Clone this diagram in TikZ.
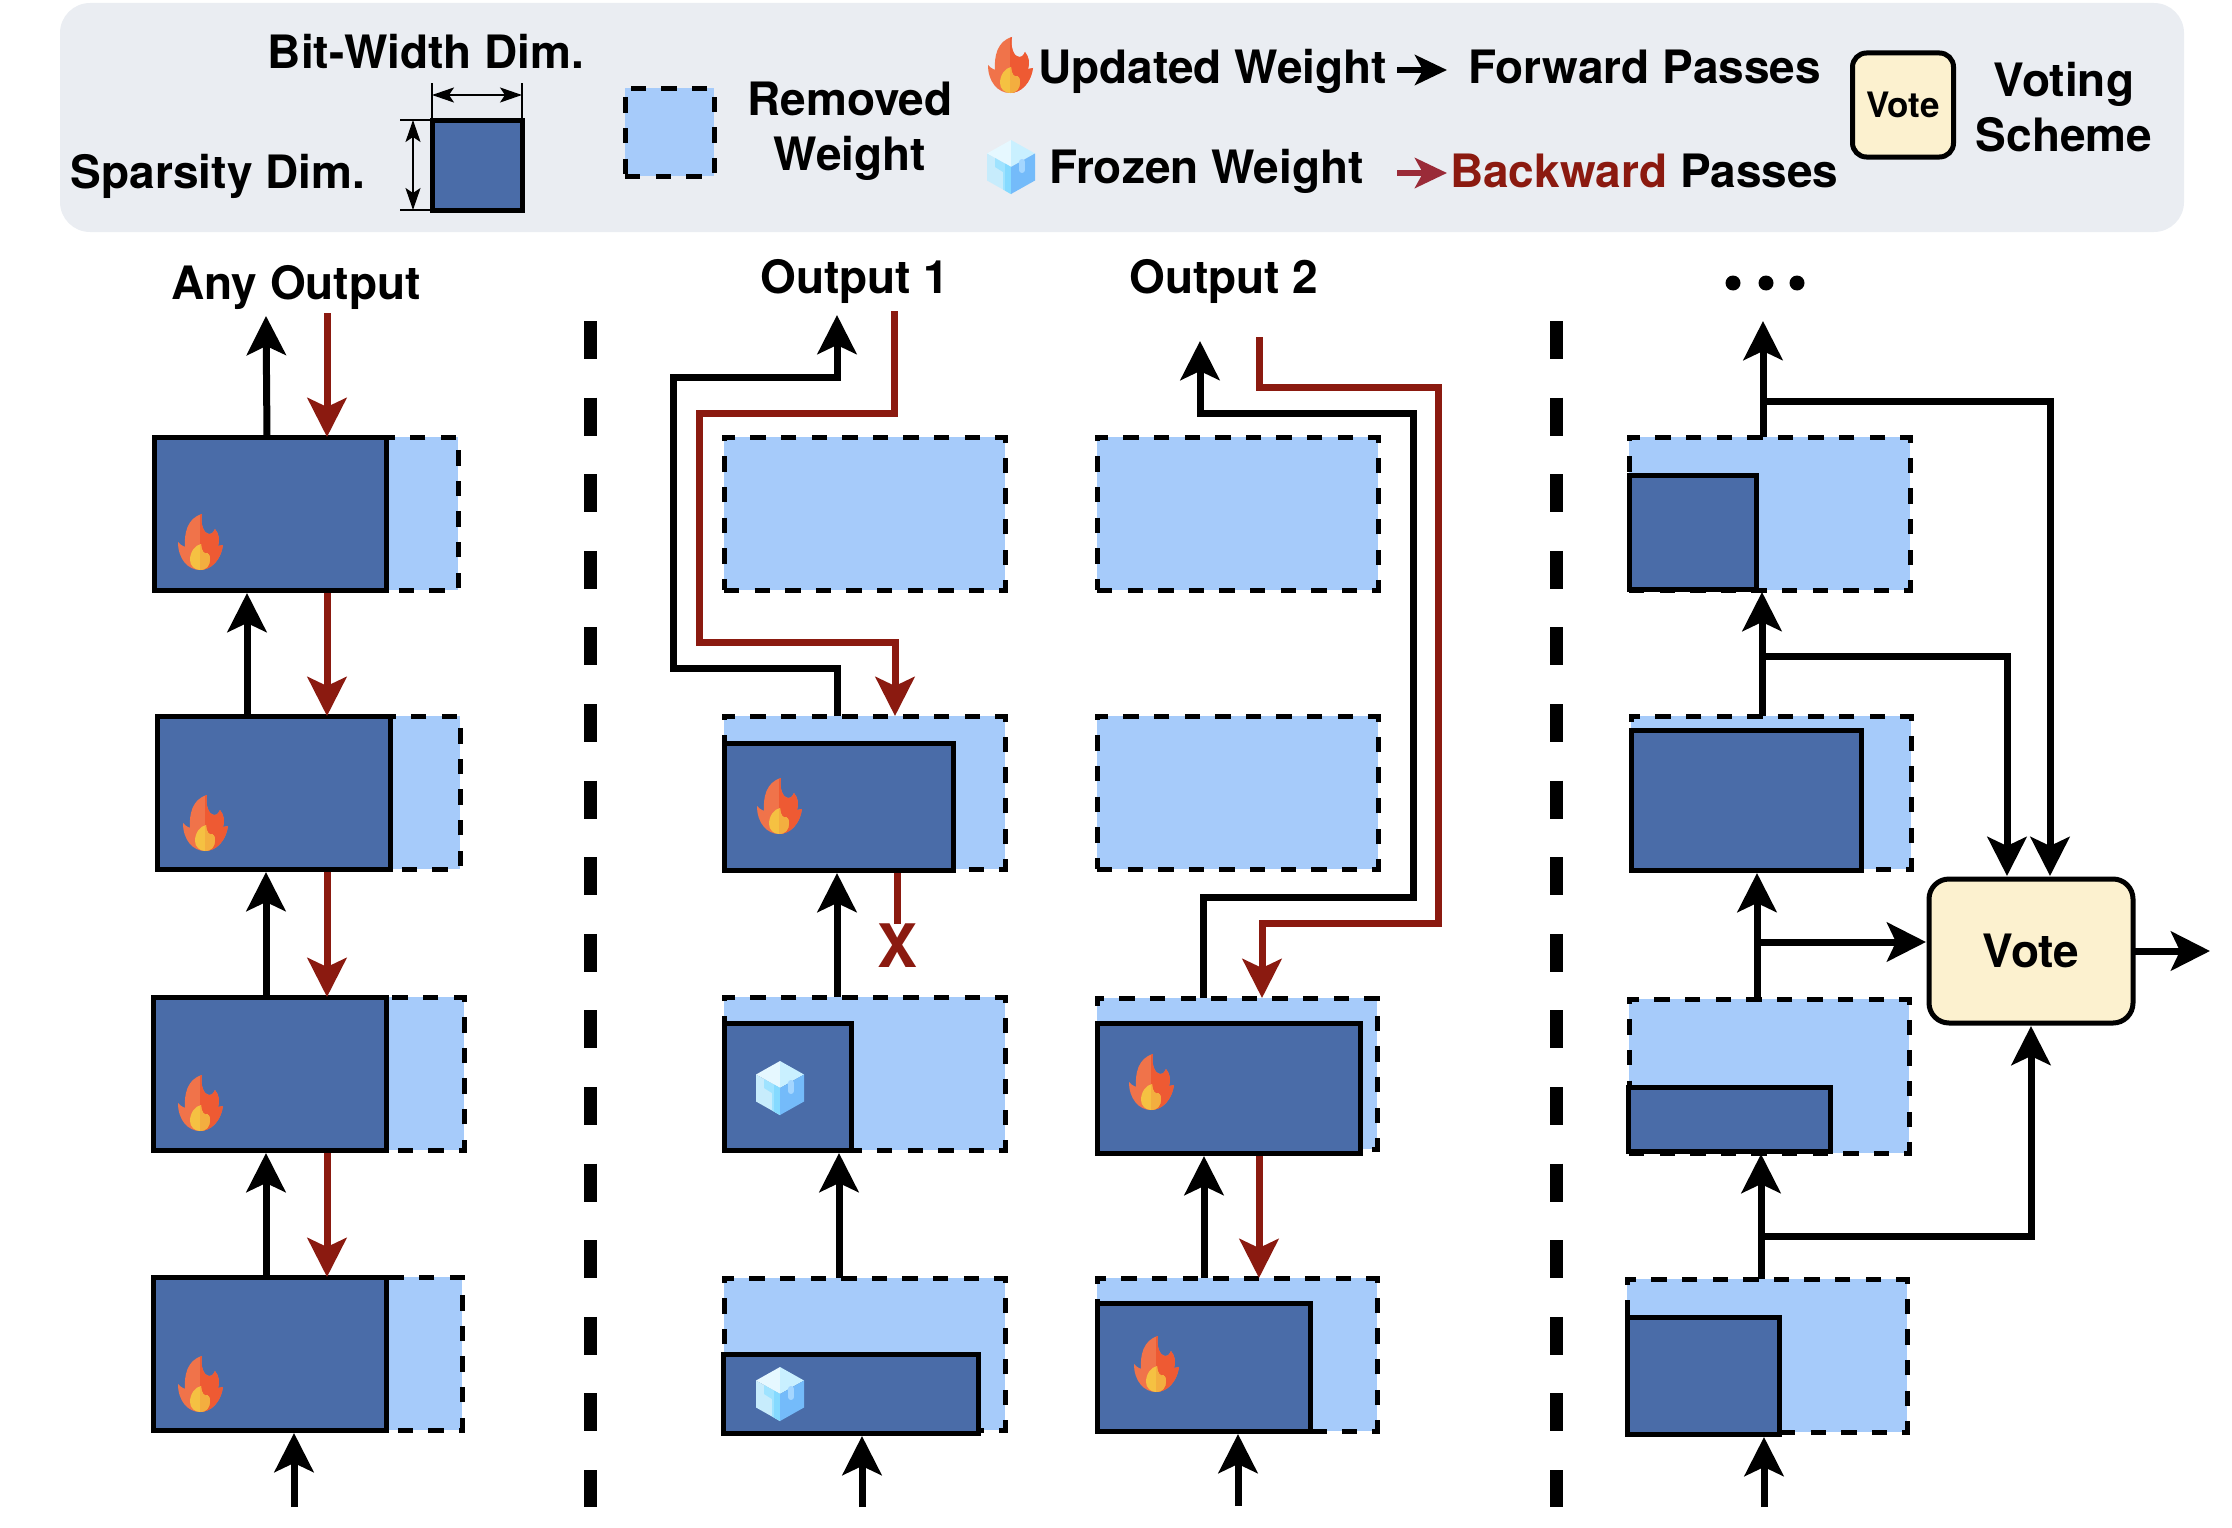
\documentclass[tikz,border=0pt]{standalone}
\usepackage{fontspec}
\usepackage{xcolor}
\usetikzlibrary{arrows.meta}
\setmainfont{TeX Gyre Heros}
\definecolor{mypanel}{HTML}{EAEDF2}
\definecolor{myblue}{HTML}{4A6CA8}
\definecolor{mysky}{HTML}{A6CBFA}
\definecolor{myred}{HTML}{8B1A10}
\definecolor{mywine}{HTML}{9A2B38}
\definecolor{mycream}{HTML}{FCF1CF}
\definecolor{flamea}{HTML}{F0734A}
\definecolor{flameb}{HTML}{EE5A33}
\definecolor{flamec}{HTML}{F5C142}
\definecolor{flamed}{HTML}{F3AE3F}
\newcommand{\flamepath}{(2,-28) .. controls (0,-18) and (4,-8) .. (9,-8)
  .. controls (13,-8) and (14,-11) .. (15,-13) .. controls (19,-8) and (20,-2) .. (18,4)
  -- (23,3) .. controls (21,18) and (11,28) .. (0,28)
  .. controls (-12,28) and (-22,17) .. (-22,0) .. controls (-20,2) and (-18,4) .. (-15,5)
  .. controls (-16,-8) and (-13,-24) .. (2,-28) -- cycle}
\newcommand{\coalpath}{(1,2) .. controls (-5,3) and (-10,10) .. (-10,18)
  .. controls (-10,24) and (-5,28) .. (0,28) .. controls (6,28) and (10,24) .. (10,17)
  .. controls (10,13) and (8,11) .. (7,11) .. controls (5,13) and (1,9) .. (1,2) -- cycle}
\tikzset{
  flame/.pic={
    \fill[flamea] \flamepath;
    \begin{scope}
      \clip \flamepath;
      \fill[flameb] (0,-30) rectangle (30,30);
    \end{scope}
    \fill[flamec] \coalpath;
    \begin{scope}
      \clip \coalpath;
      \fill[flamed] (0,0) rectangle (12,30);
    \end{scope}
  },
  icecube/.pic={
    \fill[HTML=E6F8FF] (0,-27) -- (-24,-13.5) -- (0,0) -- cycle;
    \fill[HTML=C9F0FF] (0,-27) -- (24,-13.5) -- (0,0) -- cycle;
    \fill[HTML=C7ECFC] (-24,-13.5) -- (0,0) -- (0,27) -- (-24,13.5) -- cycle;
    \fill[HTML=9FE3FF] (-16,-9) -- (0,0) -- (0,27) -- (-8,22.5) -- (-8,5) -- (-16,0) -- cycle;
    \fill[HTML=85DAFF] (0,0) -- (0,27) -- (-6,23.5) -- (-6,-3.5) -- cycle;
    \fill[HTML=74BBFA] (0,0) -- (24,-13.5) -- (24,13.5) -- (0,27) -- cycle;
    \draw[HTML=A4D6FF,line width=6pt,line cap=round] (11,-5) -- (11,3);
  },
  HTML/.code={\definecolor{tmpfill}{HTML}{#1}\tikzset{color=tmpfill}}
}
\begin{document}
\begin{tikzpicture}[x=1pt,y=-1pt,
  wh/.style 2 args={minimum width=#1pt,minimum height=#2pt},
  panel/.style={fill=mypanel,rounded corners=30pt,inner sep=0pt,outer sep=0pt,anchor=north west},
  slot/.style={draw=black,fill=mysky,line width=5pt,dash pattern=on 15.4pt off 15.2pt,
               inner sep=0pt,outer sep=0pt,anchor=north west},
  kept/.style={draw=black,fill=myblue,line width=5pt,inner sep=0pt,outer sep=0pt,anchor=north west},
  votebox/.style={draw=black,fill=mycream,line width=5pt,rounded corners=20pt,
                  inner sep=0pt,outer sep=0pt,font=\bfseries\fontsize{46}{52}\selectfont},
  lbl/.style={inner sep=0pt,outer sep=0pt,font=\bfseries\fontsize{46}{55}\selectfont},
  fwd/.style={-{Stealth[length=39pt,width=39pt,inset=9pt]},line width=7pt,shorten >=3pt},
  bwd/.style={-{Stealth[length=39pt,width=39pt,inset=9pt]},line width=7pt,color=myred,shorten <=3pt},
  bwire/.style={line width=7pt,color=myred,shorten <=3pt},
  sep/.style={line width=13pt,dash pattern=on 38pt off 38.6pt},
  dimline/.style={line width=2pt},
  dimarr/.style={{Stealth[length=22pt,width=15pt,inset=5pt]}-{Stealth[length=22pt,width=15pt,inset=5pt]},line width=2pt},
  keyarr/.style={-{Stealth[length=32pt,width=30pt,inset=8pt]},line width=6pt},
  dotmark/.style={circle,fill=black,inner sep=0pt,minimum size=15pt}]
\useasboundingbox (0,0) rectangle (2232,1528);

% legend
\node[panel,wh={2124}{229}] (legend) at (60,3) {};
\node[kept,wh={90}{90}] (w0) at (432,120) {};
\draw[dimline] (w0.north west) -- ++(0,-37);
\draw[dimline] (w0.north east) -- ++(0,-37);
\draw[dimline] (w0.north west) -- ++(-32,0);
\draw[dimline] (w0.south west) -- ++(-32,0);
\draw[dimarr] ([yshift=25]w0.north west) -- ([yshift=25]w0.north east);
\draw[dimarr] ([xshift=-19]w0.north west) -- ([xshift=-19]w0.south west);
\node[lbl,anchor=base] (bitdim) at (426,68) {Bit-Width Dim.};
\node[lbl,anchor=base] (spdim) at (218,188) {Sparsity Dim.};
\node[slot,wh={89}{88}] (s0) at (625,88) {};
\node[lbl,align=center] (removed) at (850,131) {Removed\\Weight};
\pic (kfire) at (1010,65) {flame};
\node[lbl,anchor=base west] (updated) at (1038,83) {Updated Weight};
\pic (kice) at (1011,167) {icecube};
\node[lbl,anchor=base west] (frozen) at (1049,183) {Frozen Weight};
\coordinate (fa) at (1397,70);
\coordinate (fb) at (1447,70);
\draw[keyarr] (fa) -- (fb);
\coordinate (ba) at (1397,173);
\coordinate (bb) at (1447,173);
\draw[keyarr,color=mywine] (ba) -- (bb);
\node[lbl,anchor=base west] (fpass) at (1468,84) {Forward Passes};
\node[lbl,anchor=base west] (bpass) at (1450,187) {\textcolor{myred}{Backward} Passes};
\node[votebox,wh={101}{104},rounded corners=14pt,font=\bfseries\fontsize{35}{40}\selectfont] (vote0) at (1903,105) {Vote};
\node[lbl,align=center] (voting) at (2064,107) {Voting\\Scheme};

% headings
\node[lbl,anchor=base] (anyout) at (296,299) {Any Output};
\node[lbl,anchor=base] (outone) at (855,293) {Output 1};
\node[lbl,anchor=base] (outtwo) at (1224,293) {Output 2};
\node[dotmark] (d1) at (1733,283) {};
\node[dotmark] (d2) at (1766,283) {};
\node[dotmark] (d3) at (1797,283) {};

% separators
\draw[sep] (590,321) -- (590,1507);
\draw[sep] (1556,321) -- (1556,1507);

% first column, full sparsity
\node[slot,wh={304}{153}] (s11) at (154,437) {};
\node[kept,wh={232}{153}] (w11) at (154,437) {};
\node[slot,wh={303}{153}] (s12) at (157,716) {};
\node[kept,wh={233}{153}] (w12) at (157,716) {};
\node[slot,wh={311}{153}] (s13) at (153,997) {};
\node[kept,wh={233}{153}] (w13) at (153,997) {};
\node[slot,wh={309}{153}] (s14) at (153,1277) {};
\node[kept,wh={233}{153}] (w14) at (153,1277) {};
\pic (f11) at (200,542) {flame};
\pic (f12) at (205,823) {flame};
\pic (f13) at (200,1103) {flame};
\pic (f14) at (200,1384) {flame};
\coordinate (o1) at (266,313);
\coordinate (r1) at (327,313);
\coordinate (in1) at (294,1507);
\draw[fwd] ([xshift=113]s11.north west) -- (o1);
\draw[bwd,shorten <=0pt] (r1) -- ([xshift=173]s11.north west);
\draw[fwd] ([xshift=90]s12.north west) -- ([xshift=93]w11.south west);
\draw[bwd] ([xshift=173]w11.south west) -- ([xshift=170]s12.north west);
\draw[fwd] ([xshift=113]s13.north west) -- ([xshift=109]w12.south west);
\draw[bwd] ([xshift=170]w12.south west) -- ([xshift=174]s13.north west);
\draw[fwd] ([xshift=113]s14.north west) -- ([xshift=113]w13.south west);
\draw[bwd] ([xshift=174]w13.south west) -- ([xshift=174]s14.north west);
\draw[fwd] (in1) -- ([xshift=141]w14.south west);

% second column, early exit
\node[slot,wh={281}{153}] (s21) at (724,437) {};
\node[slot,wh={281}{153}] (s22) at (724,716) {};
\node[kept,wh={229}{127}] (w22) at (724,743) {};
\node[slot,wh={281}{153}] (s23) at (724,997) {};
\node[kept,wh={127}{127}] (w23) at (724,1023) {};
\node[slot,wh={281}{152}] (s24) at (724,1278) {};
\node[kept,wh={255}{79}] (w24) at (723,1354) {};
\pic (f22) at (779,806) {flame};
\pic (c23) at (780,1088) {icecube};
\pic (c24) at (780,1394) {icecube};
\coordinate (o2) at (837,312);
\coordinate (b21) at (673,668);
\coordinate (b22) at (837,377);
\coordinate (r2) at (894,311);
\coordinate (b23) at (699,413);
\coordinate (b24) at (895,642);
\coordinate (in2) at (862,1507);
\draw[fwd] ([xshift=113]s22.north west) |- (b21) |- (b22) -- (o2);
\draw[bwd,shorten <=0pt] (r2) |- (b23) |- (b24) -- ([xshift=171]s22.north west);
\draw[fwd] ([xshift=113]s23.north west) -- ([xshift=113]w22.south west);
\node[inner sep=0pt,outer sep=0pt,color=myred,font=\bfseries\fontsize{60}{64}\selectfont] (xmark) at (897,946) {X};
\draw[bwire] ([xshift=173]w22.south west) -- (xmark.north);
\draw[fwd] ([xshift=115]s24.north west) -- ([xshift=115]w23.south west);
\draw[fwd] (in2) -- ([xshift=139]w24.south west);

% third column, later exit
\node[slot,wh={281}{153}] (s31) at (1097,437) {};
\node[slot,wh={281}{153}] (s32) at (1097,716) {};
\node[slot,wh={280}{151}] (s33) at (1097,998) {};
\node[kept,wh={263}{130}] (w33) at (1097,1023) {};
\node[slot,wh={280}{153}] (s34) at (1097,1278) {};
\node[kept,wh={213}{128}] (w34) at (1097,1303) {};
\pic (f33) at (1151,1082) {flame};
\pic (f34) at (1156,1364) {flame};
\coordinate (o3) at (1200,338);
\coordinate (b31) at (1413,897);
\coordinate (b32) at (1200,413);
\coordinate (r3) at (1259,337);
\coordinate (b33) at (1438,387);
\coordinate (b34) at (1262,923);
\coordinate (in3) at (1238,1506);
\draw[fwd] ([xshift=106]s33.north west) |- (b31) |- (b32) -- (o3);
\draw[bwd,shorten <=0pt] (r3) |- (b33) |- (b34) -- ([xshift=165]s33.north west);
\draw[fwd] ([xshift=107]s34.north west) -- ([xshift=107]w33.south west);
\draw[bwd] ([xshift=162]w33.south west) -- ([xshift=162]s34.north west);
\draw[fwd] (in3) -- ([xshift=141]w34.south west);

% fourth column, voting
\node[slot,wh={281}{153}] (s41) at (1629,437) {};
\node[kept,wh={127}{114}] (w41) at (1629,475) {};
\node[slot,wh={280}{153}] (s42) at (1631,716) {};
\node[kept,wh={230}{140}] (w42) at (1631,730) {};
\node[slot,wh={280}{154}] (s43) at (1629,999) {};
\node[kept,wh={202}{64}] (w43) at (1628,1087) {};
\node[slot,wh={280}{153}] (s44) at (1627,1279) {};
\node[kept,wh={152}{117}] (w44) at (1627,1317) {};
\node[votebox,wh={204}{144}] (vote) at (2031,951) {Vote};
\coordinate (o4) at (1763,318);
\coordinate (t41) at (1763,401);
\coordinate (t42) at (1762,656);
\coordinate (t43) at (1757,942);
\coordinate (t44) at (1761,1236);
\coordinate (in4) at (1764,1507);
\coordinate (out) at (2210,951);
\draw[fwd] ([xshift=134]s41.north west) -- (o4);
\draw[fwd] ([xshift=131]s42.north west) -- ([xshift=133]w41.south west);
\draw[fwd] ([xshift=128]s43.north west) -- ([xshift=126]w42.south west);
\draw[fwd] ([xshift=134]s44.north west) -- ([xshift=133]w43.south west);
\draw[fwd] (in4) -- ([xshift=137]w44.south west);
\draw[fwd] (t41) -| ([xshift=121]vote.north west);
\draw[fwd] (t42) -| ([xshift=78]vote.north west);
\draw[fwd] (t43) -- ([yshift=-63]vote.north west);
\draw[fwd] (t44) -| (vote.south);
\draw[fwd,shorten >=0pt] (vote.east) -- (out);
\end{tikzpicture}
\end{document}
